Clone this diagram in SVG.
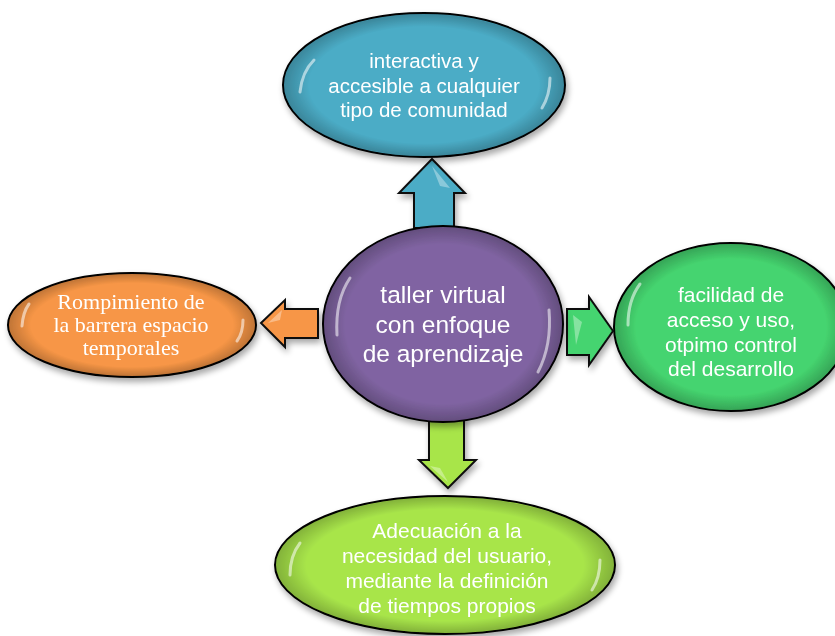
<svg xmlns="http://www.w3.org/2000/svg" width="835" height="636" viewBox="0 0 835 636">
<defs>
  <radialGradient id="shade" cx="50%" cy="50%" r="50%">
    <stop offset="0.82" stop-color="#000" stop-opacity="0"/>
    <stop offset="1" stop-color="#000" stop-opacity="0.22"/>
  </radialGradient>
  <filter id="shadow" x="-10%" y="-10%" width="120%" height="125%">
    <feGaussianBlur in="SourceAlpha" stdDeviation="3"/>
    <feOffset dx="2" dy="4" result="b"/>
    <feComponentTransfer><feFuncA type="linear" slope="0.35"/></feComponentTransfer>
    <feMerge><feMergeNode/><feMergeNode in="SourceGraphic"/></feMerge>
  </filter>
</defs>
<style>
  .body { stroke: #000; stroke-width: 2; }
  .hl { fill: none; stroke: #fff; stroke-opacity: 0.55; stroke-width: 3; stroke-linecap: round; }
  .arrow { stroke: #111; stroke-width: 2; stroke-linejoin: miter; }
  .bevel { fill: #fff; fill-opacity: 0.35; }
  .sans { font-family: "Liberation Sans", Arial, sans-serif; fill: #fff; text-anchor: middle; }
  .serif { font-family: "Liberation Serif", "Times New Roman", serif; fill: #fff; text-anchor: middle; }
  .blue { fill: #4bacc6; }
  .purple { fill: #8064a2; }
  .green { fill: #45d46f; }
  .orange { fill: #f79646; }
  .lime { fill: #a8e54a; }
</style>
<rect width="835" height="636" fill="#fff"/>

<g id="connectors">
  <g filter="url(#shadow)">
    <polygon class="arrow blue" points="432,159 465,193 454,193 454,228 414,228 414,193 399,193"/>
    <polygon class="bevel" points="432,166 450,188 440,186"/>
    <polygon class="arrow orange" points="261,323 285,300 285,309 318,309 318,338 285,338 285,347"/>
    <polygon class="bevel" points="268,323 282,310 280,320"/>
    <polygon class="arrow green" points="613,331 589,297 589,309 567,309 567,355 589,355 589,365"/>
    <polygon class="bevel" points="573,315 582,322 576,345"/>
    <polygon class="arrow lime" points="448,488 476,460 464,460 464,416 429,416 429,460 419,460"/>
    <polygon class="bevel" points="448,482 430,466 440,468"/>
  </g>
</g>

<g id="node-top" filter="url(#shadow)">
  <ellipse class="body blue" cx="424" cy="85" rx="141" ry="72"/>
  <ellipse cx="424" cy="85" rx="140" ry="71" fill="url(#shade)"/>
  <path class="hl" d="M300,92 Q302,72 314,60"/>
  <path class="hl" d="M550,78 Q550,95 542,108"/>
  <text class="sans" font-size="20.5" x="424" y="68">interactiva y</text>
  <text class="sans" font-size="20.5" x="424" y="93">accesible a cualquier</text>
  <text class="sans" font-size="20.5" x="424" y="117">tipo de comunidad</text>
</g>

<g id="node-left" filter="url(#shadow)">
  <ellipse class="body orange" cx="132" cy="325" rx="124" ry="52"/>
  <ellipse cx="132" cy="325" rx="123" ry="51" fill="url(#shade)"/>
  <path class="hl" d="M22,326 Q23,312 29,304"/>
  <path class="hl" d="M243,320 Q243,333 237,341"/>
  <text class="serif" font-size="22" x="131" y="309">Rompimiento de</text>
  <text class="serif" font-size="22" x="131" y="332">la barrera espacio</text>
  <text class="serif" font-size="22" x="131" y="355">temporales</text>
</g>

<g id="node-center" filter="url(#shadow)">
  <ellipse class="body purple" cx="443" cy="324" rx="120" ry="98"/>
  <ellipse cx="443" cy="324" rx="119" ry="97" fill="url(#shade)"/>
  <path class="hl" d="M337,335 Q335,300 350,278"/>
  <path class="hl" d="M549,310 Q552,345 538,372"/>
  <text class="sans" font-size="24.5" x="443" y="303">taller virtual</text>
  <text class="sans" font-size="24.5" x="443" y="333">con enfoque</text>
  <text class="sans" font-size="24.5" x="443" y="362">de aprendizaje</text>
</g>

<g id="node-right" filter="url(#shadow)">
  <ellipse class="body green" cx="731" cy="327" rx="117" ry="84"/>
  <ellipse cx="731" cy="327" rx="116" ry="83" fill="url(#shade)"/>
  <path class="hl" d="M628,325 Q628,300 640,284"/>
  <text class="sans" font-size="21" x="731" y="302">facilidad de</text>
  <text class="sans" font-size="21" x="731" y="327">acceso y uso,</text>
  <text class="sans" font-size="21" x="731" y="352">otpimo control</text>
  <text class="sans" font-size="21" x="731" y="376">del desarrollo</text>
</g>

<g id="node-bottom" filter="url(#shadow)">
  <ellipse class="body lime" cx="445" cy="565" rx="170" ry="69"/>
  <ellipse cx="445" cy="565" rx="169" ry="68" fill="url(#shade)"/>
  <path class="hl" d="M290,575 Q290,556 300,543"/>
  <path class="hl" d="M600,560 Q600,578 592,590"/>
  <text class="sans" font-size="21" x="447" y="538">Adecuación a la</text>
  <text class="sans" font-size="21" x="447" y="563">necesidad del usuario,</text>
  <text class="sans" font-size="21" x="447" y="588">mediante la definición</text>
  <text class="sans" font-size="21" x="447" y="613">de tiempos propios</text>
</g>
</svg>
